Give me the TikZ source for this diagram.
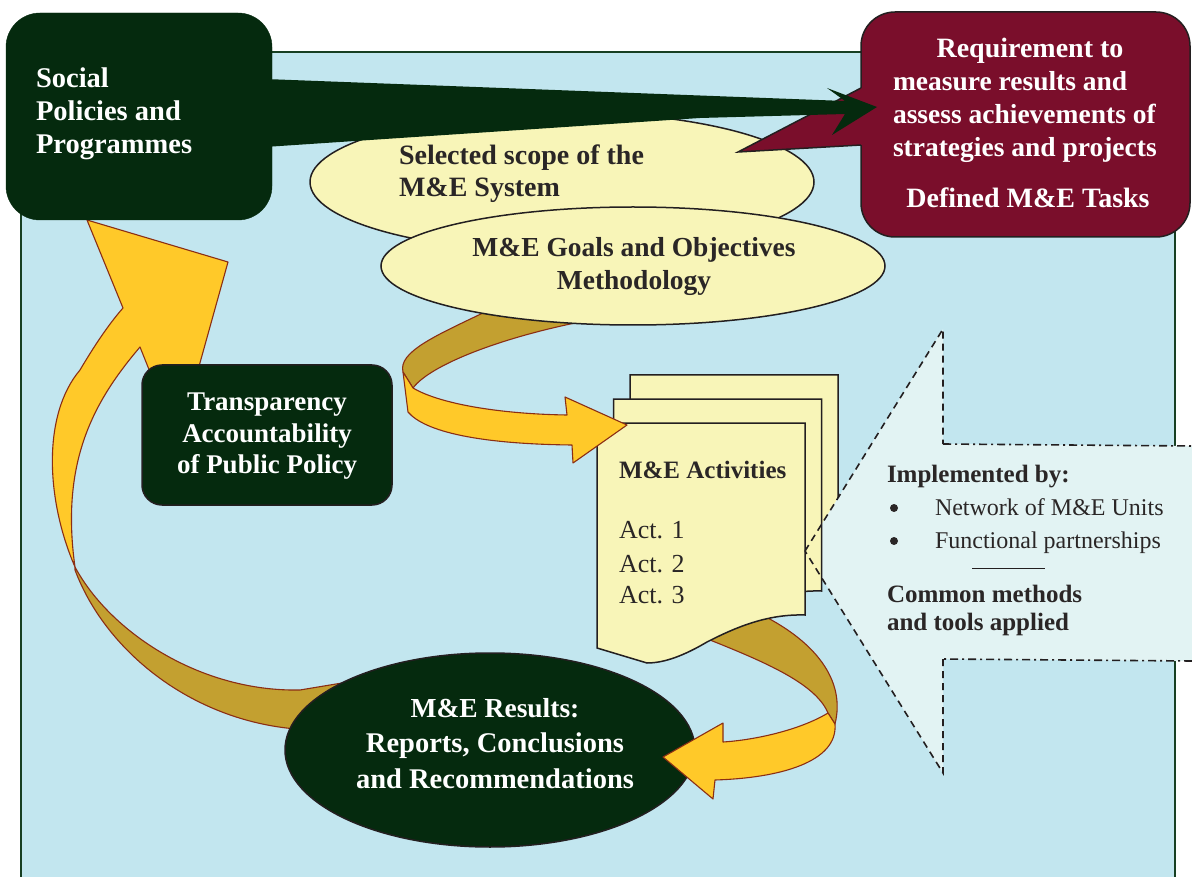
\documentclass[tikz,border=0pt]{standalone}
\usepackage{fontspec}
\setmainfont{Liberation Serif}
\usetikzlibrary{shapes.geometric}
\definecolor{bgblue}{HTML}{C2E6EF}
\definecolor{bgedge}{HTML}{173F22}
\definecolor{dkgreen}{HTML}{052A0E}
\definecolor{maroonc}{HTML}{7A0E2B}
\definecolor{paleyel}{HTML}{F8F5B8}
\definecolor{ribyel}{HTML}{FFC929}
\definecolor{ribochre}{HTML}{C3A030}
\definecolor{ribedge}{HTML}{8B2E14}
\definecolor{lightarrow}{HTML}{E2F3F3}
\definecolor{txtdark}{HTML}{2A2626}
\definecolor{lineedge}{HTML}{231F20}
\newcommand{\fsz}[1]{\fontsize{#1}{#1}\selectfont}
\newcommand{\docsheet}[2]{%
  \draw[sheetstyle, shift={(#1,#2)}] (597,423) -- (805,423) -- (805,615)
    .. controls (770,614) and (740,625) .. (707,642)
    .. controls (685,655) and (665,663) .. (647,663) -- (597,648) -- cycle;}
\tikzset{
  lbl/.style={inner sep=0pt, outer sep=0pt},
  wtxt/.style={lbl, text=white},
  dtxt/.style={lbl, text=txtdark},
  ribbonedge/.style={draw=ribedge, line width=1.1pt, line join=round},
  sheetstyle/.style={fill=paleyel, draw=lineedge, line width=1.5pt, line join=miter},
  ellstyle/.style={ellipse, fill=paleyel, draw=lineedge, line width=1.5pt, inner sep=0pt},
  dashside/.style={lineedge, line width=1.6pt, dash pattern=on 7pt off 5pt},
  dashdotside/.style={lineedge, line width=1.6pt, dash pattern=on 8pt off 4pt on 2pt off 4pt},
  bulletdot/.style={circle, fill=txtdark, inner sep=0pt, minimum size=8pt},
}
\begin{document}
\begin{tikzpicture}[x=1pt,y=-1pt]
\useasboundingbox (0,0) rectangle (1192,877);
\clip (0,0) rectangle (1192,877);
\fill[white] (0,0) rectangle (1192,877);
% background panel
\draw[fill=bgblue, draw=bgedge, line width=1.4pt] (21,52) rectangle (1175,900);

% big left ribbon arrow (results -> policies)
\filldraw[ribbonedge, fill=ribochre] (75,567) .. controls (110,632) and (200,692) .. (300,690)
  -- (360,680) -- (330,738) -- (296,729)
  .. controls (190,720) and (105,650) .. (75,570) -- cycle;
\filldraw[ribbonedge, fill=ribyel] (75,567) .. controls (46,500) and (42,415) .. (80,370)
  .. controls (93,348) and (108,325) .. (123,308) -- (87,220) -- (228,262) -- (178,442)
  -- (140,347) .. controls (95,400) and (60,460) .. (75,567) -- cycle;

% ochre part of top ribbon (goals -> activities)
\filldraw[ribbonedge, fill=ribochre] (485,312) .. controls (435,336) and (398,352) .. (403,372)
  -- (413,388) .. controls (430,365) and (500,338) .. (580,322) -- cycle;

% ellipses
\node[ellstyle, minimum width=504pt, minimum height=140pt] (scope) at (562,182) {};
\node[ellstyle, minimum width=504pt, minimum height=118pt] (goals) at (633,266) {};

% requirement box with pointer
\node[draw=lineedge, line width=1.5pt, fill=maroonc, rounded corners=34pt,
      minimum width=329pt, minimum height=225pt] (req) at (1025.5,124.5) {};
\fill[maroonc] (738,152) -- (861,88) -- (866,88) -- (866,145) -- (861,145) -- cycle;
\draw[lineedge, line width=1.5pt, line join=miter] (861,88) -- (738,152) -- (861,145);

% dark arrow from policies to requirement
\fill[dkgreen] (265,79) -- (845,101) -- (827,88) -- (877,107) -- (832,135) -- (845,114)
  -- (700,118) -- (265,147) -- cycle;

% social policies box
\node[fill=dkgreen, draw=dkgreen, rounded corners=34pt,
      minimum width=266pt, minimum height=207pt] (social) at (139,116.5) {};

% transparency box
\node[fill=dkgreen, draw=lineedge, line width=1.5pt, rounded corners=20pt,
      minimum width=250pt, minimum height=140pt] (transp) at (267,435) {};

% results ellipse
\node[ellipse, fill=dkgreen, draw=lineedge, line width=1.5pt, inner sep=0pt,
      minimum width=410pt, minimum height=194pt] (results) at (490,750) {};

% lower ribbon (activities -> results)
\filldraw[ribbonedge, fill=ribochre] (756,612) .. controls (815,640) and (846,680) .. (835,724)
  -- (828,713) .. controls (815,682) and (760,660) .. (700,636) -- cycle;
\filldraw[ribbonedge, fill=ribyel] (828,713) .. controls (800,730) and (755,740) .. (723,742)
  -- (723,723) -- (663,757) -- (713,799) -- (715,780)
  .. controls (780,778) and (838,762) .. (835,724) -- cycle;

% activity sheets and implementation arrow
\docsheet{33}{-48}
\fill[lightarrow] (805,551) -- (943,329) -- (943,444) -- (1192,446) -- (1192,661)
  -- (943,659) -- (943,773) -- cycle;
\docsheet{16.5}{-24}
\docsheet{0}{0}
\draw[dashside] (805,551) -- (943,329) -- (943,444);
\draw[dashdotside] (943,444) -- (1192,446);
\draw[dashdotside] (1192,661) -- (943,659);
\draw[dashside] (943,659) -- (943,773) -- (805,551);

% top ribbon yellow part
\filldraw[ribbonedge, fill=ribyel] (403,372) -- (413,388) .. controls (440,404) and (500,414) .. (567,415)
  -- (565,397) -- (627,425) -- (573,463) -- (572,445)
  .. controls (480,444) and (425,432) .. (408,412) -- cycle;

% ---------- texts ----------
\node[wtxt, anchor=base west, font=\bfseries\fsz{28.5}] (soc1) at (36,88) {Social};
\node[wtxt, anchor=base west, font=\bfseries\fsz{28.5}] (soc2) at (36,121) {Policies and};
\node[wtxt, anchor=base west, font=\bfseries\fsz{28.5}] (soc3) at (36,154) {Programmes};

\node[wtxt, anchor=base, font=\bfseries\fsz{28}] (req1) at (1030,58) {Requirement to};
\node[wtxt, anchor=base west, font=\bfseries\fsz{27.5}] (req2) at (893,91) {measure results and};
\node[wtxt, anchor=base west, font=\bfseries\fsz{27.5}] (req3) at (893,124) {assess achievements of};
\node[wtxt, anchor=base west, font=\bfseries\fsz{27.5}] (req4) at (893,157) {strategies and projects};
\node[wtxt, anchor=base, font=\bfseries\fsz{28}] (req5) at (1028,208) {Defined M\&E Tasks};

\node[dtxt, anchor=base west, font=\bfseries\fsz{28}] (sc1) at (399,165) {Selected scope of the};
\node[dtxt, anchor=base west, font=\bfseries\fsz{28}] (sc2) at (399,197) {M\&E System};

\node[dtxt, anchor=base, font=\bfseries\fsz{27.5}] (go1) at (634,257) {M\&E Goals and Objectives};
\node[dtxt, anchor=base, font=\bfseries\fsz{27.5}] (go2) at (634,290) {Methodology};

\node[wtxt, anchor=base, font=\bfseries\fsz{27}] (tr1) at (267,410) {Transparency};
\node[wtxt, anchor=base, font=\bfseries\fsz{27}] (tr2) at (267,442) {Accountability};
\node[wtxt, anchor=base, font=\bfseries\fsz{27}] (tr3) at (267,473) {of Public Policy};

\node[dtxt, anchor=base west, font=\bfseries\fsz{25}] (act0) at (619,478) {M\&E Activities};
\node[dtxt, anchor=base west, font=\fsz{26}] (act1) at (619,538) {Act. 1};
\node[dtxt, anchor=base west, font=\fsz{26}] (act2) at (619,572) {Act. 2};
\node[dtxt, anchor=base west, font=\fsz{26}] (act3) at (619,603) {Act. 3};

\node[dtxt, anchor=base west, font=\bfseries\fsz{25}] (imp0) at (887,482) {Implemented by:};
\node[bulletdot] (bul1) at (894,508) {};
\node[bulletdot] (bul2) at (894,541) {};
\node[dtxt, anchor=base west, font=\fsz{24}] (imp1) at (935,515) {Network of M\&E Units};
\node[dtxt, anchor=base west, font=\fsz{24}] (imp2) at (935,548) {Functional partnerships};
\coordinate (ruleA) at (972,568);
\coordinate (ruleB) at (1045,568);
\draw[lineedge, line width=1pt] (ruleA) -- (ruleB);
\node[dtxt, anchor=base west, font=\bfseries\fsz{25}] (com1) at (887,602) {Common methods};
\node[dtxt, anchor=base west, font=\bfseries\fsz{25}] (com2) at (887,630) {and tools applied};

\node[wtxt, anchor=base, font=\bfseries\fsz{27.5}] (res1) at (495,717) {M\&E Results:};
\node[wtxt, anchor=base, font=\bfseries\fsz{28.5}] (res2) at (495,752) {Reports, Conclusions};
\node[wtxt, anchor=base, font=\bfseries\fsz{28.5}] (res3) at (495,788) {and Recommendations};
\end{tikzpicture}
\end{document}
